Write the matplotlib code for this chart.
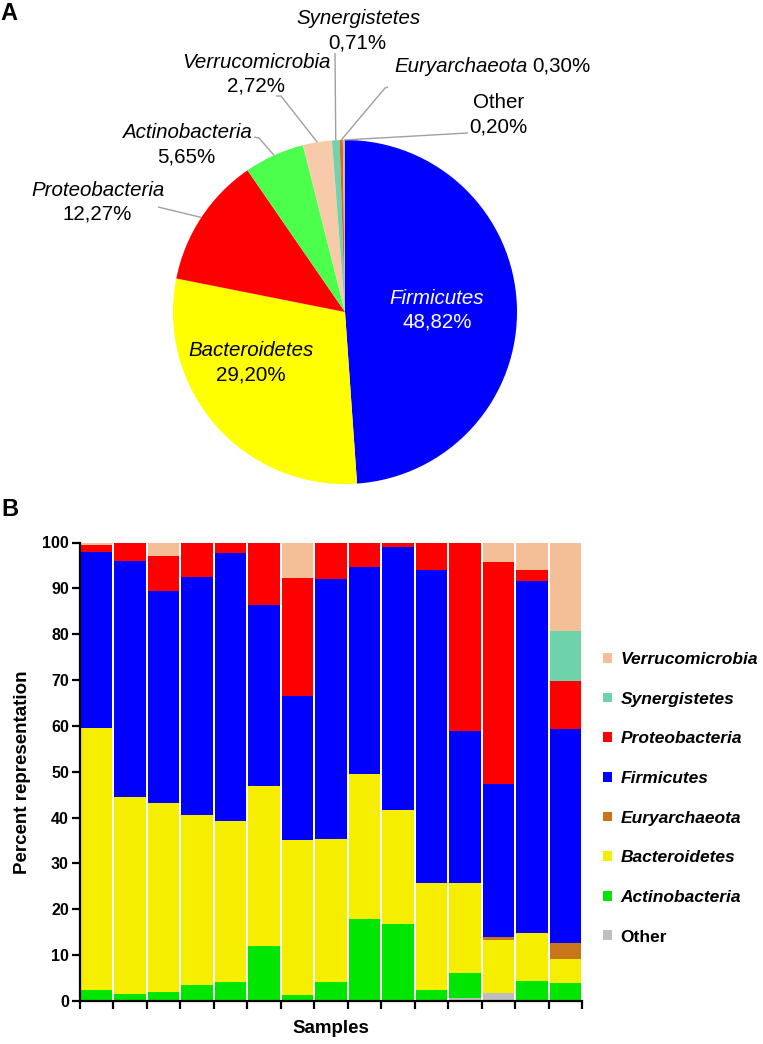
import numpy as np
import matplotlib.pyplot as plt
from matplotlib.patches import Patch

plt.rcParams['font.family'] = ['Liberation Sans', 'DejaVu Sans']

# ====================================================
# A. pie data (overall phylum composition)
# ====================================================
pie_names = ["Firmicutes", "Bacteroidetes", "Proteobacteria", "Actinobacteria",
             "Verrucomicrobia", "Synergistetes", "Euryarchaeota", "Other"]
pie_pct = [48.82, 29.20, 12.27, 5.65, 2.72, 0.71, 0.30, 0.20]
pie_pct_txt = ["48,82%", "29,20%", "12,27%", "5,65%", "2,72%", "0,71%", "0,30%", "0,20%"]
pie_colors = ["#0000FF", "#FFFF00", "#FF0000", "#4DFF4D",
              "#F7CBAA", "#70D3AE", "#E0661A", "#BFBFBF"]

# ====================================================
# B. stacked bars per sample (percent)
# ====================================================
samples = np.arange(15)
other   = [0, 0, 0, 0, 0, 0, 0, 0, 0, 0, 0, 0.7, 1.7, 0, 0]
actino  = [2.5, 1.6, 2.0, 3.4, 4.2, 12.1, 1.2, 4.2, 17.8, 16.7, 2.5, 5.4, 0, 4.4, 4.0]
bactero = [57.0, 42.9, 41.1, 37.1, 35.1, 34.9, 33.9, 31.1, 31.7, 25.0, 23.2, 19.7, 11.5, 10.4, 5.1]
eury    = [0, 0, 0, 0, 0, 0, 0, 0, 0, 0, 0, 0, 0.8, 0, 3.6]
firm    = [38.5, 51.5, 46.4, 51.9, 58.5, 39.3, 31.5, 56.7, 45.2, 57.4, 68.3, 33.0, 33.3, 76.8, 46.6]
proteo  = [1.4, 4.0, 7.5, 7.6, 2.2, 13.7, 25.6, 8.0, 5.3, 0.9, 6.0, 41.2, 48.4, 2.4, 10.5]
syner   = [0, 0, 0, 0, 0, 0, 0, 0, 0, 0, 0, 0, 0, 0, 10.8]
verruco = [0.6, 0, 3.0, 0, 0, 0, 7.8, 0, 0, 0, 0, 0, 4.3, 6.0, 19.4]

# bottom -> top
bar_series = [
    ("Other", other, "#BEBEBE"),
    ("Actinobacteria", actino, "#00E600"),
    ("Bacteroidetes", bactero, "#F5EE00"),
    ("Euryarchaeota", eury, "#C87619"),
    ("Firmicutes", firm, "#0000FF"),
    ("Proteobacteria", proteo, "#FF0000"),
    ("Synergistetes", syner, "#6ED2AA"),
    ("Verrucomicrobia", verruco, "#F4BE96"),
]

W, H = 763, 1044
fig = plt.figure(figsize=(W / 100, H / 100), dpi=100)

# ----------------------------------------------------
# panel A
# ----------------------------------------------------
CX, CY, R = 345, 312, 172   # pie centre / radius in pixels
TOP_H = 520


def px(x, y):
    return (x - CX) / R, (CY - y) / R


axA = fig.add_axes([0, 1 - TOP_H / H, 1, TOP_H / H])
wedges, _ = axA.pie(pie_pct, colors=pie_colors, startangle=90, counterclock=False,
                    wedgeprops=dict(linewidth=0))
axA.set_xlim((0 - CX) / R, (W - CX) / R)
axA.set_ylim((CY - TOP_H) / R, CY / R)
axA.set_aspect("auto")
axA.axis("off")

FS = 14.8
# name position, pct position (pixel centres)
label_pos = {
    "Firmicutes":      ((437, 298), (437, 322)),
    "Bacteroidetes":   ((251, 350), (251, 375)),
    "Proteobacteria":  ((98, 191), (97, 214)),
    "Actinobacteria":  ((187, 133), (186, 157)),
    "Verrucomicrobia": ((256, 62), (256, 86)),
    "Synergistetes":   ((358, 18), (357, 43)),
    "Other":           ((499, 103), (498, 127)),
}
# leader line elbows (pixels), ending at the wedge arc
leaders = {
    "Proteobacteria":  [(158, 207)],
    "Actinobacteria":  [(254, 137), (259, 138)],
    "Verrucomicrobia": [(276, 96), (281, 96)],
    "Synergistetes":   [(335, 53)],
    "Euryarchaeota":   [(388, 87), (385, 88)],
    "Other":           [(468, 133)],
}

for w, name, pct in zip(wedges, pie_names, pie_pct_txt):
    col = "white" if name == "Firmicutes" else "black"
    if name == "Euryarchaeota":
        axA.text(*px(528, 66), name, style="italic", fontsize=FS, ha="right", va="center")
        axA.text(*px(532, 66), pct, fontsize=FS, ha="left", va="center")
    elif name == "Other":
        (nx, ny), (qx, qy) = label_pos[name]
        axA.text(*px(nx, ny), name, fontsize=FS, ha="center", va="center")
        axA.text(*px(qx, qy), pct, fontsize=FS, ha="center", va="center")
    else:
        (nx, ny), (qx, qy) = label_pos[name]
        axA.text(*px(nx, ny), name, style="italic", fontsize=FS, ha="center",
                 va="center", color=col)
        axA.text(*px(qx, qy), pct, fontsize=FS, ha="center", va="center", color=col)
    if name in leaders:
        ang = np.deg2rad((w.theta1 + w.theta2) / 2)
        pts = [px(*p) for p in leaders[name]] + [(np.cos(ang), np.sin(ang))]
        xs, ys = zip(*pts)
        axA.plot(xs, ys, color="#A0A0A0", lw=1.0, solid_capstyle="butt")

fig.text(9 / W, 1 - 13 / H, "A", fontsize=17, fontweight="bold", ha="center", va="center")
fig.text(10 / W, 1 - 510 / H, "B", fontsize=17, fontweight="bold", ha="center", va="center")

# ----------------------------------------------------
# panel B
# ----------------------------------------------------
x0, x1 = 80, 582
y_top, y_bot = 542.5, 1001
axB = fig.add_axes([x0 / W, 1 - y_bot / H, (x1 - x0) / W, (y_bot - y_top) / H])

bottom = np.zeros(len(samples))
for name, vals, color in bar_series:
    vals = np.array(vals)
    axB.bar(samples, vals, bottom=bottom, width=0.94, color=color, linewidth=0)
    bottom += vals

axB.set_xlim(-0.5, 14.5)
axB.set_ylim(0, 100)
axB.set_yticks(np.arange(0, 101, 10))
axB.set_xticks(np.arange(-0.5, 15, 1))
axB.set_xticklabels([])
for s in ["top", "right"]:
    axB.spines[s].set_visible(False)
for s in ["left", "bottom"]:
    axB.spines[s].set_linewidth(1.6)
axB.tick_params(axis="both", direction="out", length=6, width=1.6)
axB.tick_params(axis="y", labelsize=11.5, pad=2)
for t in axB.get_yticklabels():
    t.set_fontweight("bold")
axB.set_ylabel("Percent representation", fontsize=13.5, fontweight="bold", labelpad=8)
axB.set_xlabel("Samples", fontsize=13.5, fontweight="bold")
axB.xaxis.set_label_coords(0.5, -0.042)

handles = [Patch(facecolor=c, edgecolor="none", label=n) for n, _, c in bar_series[::-1]]
leg = fig.legend(handles=handles, loc="upper left", bbox_to_anchor=(603 / W, 1 - 652 / H),
                 frameon=False, fontsize=12.5, handlelength=0.5, handleheight=0.5,
                 handletextpad=0.5, labelspacing=1.42, borderaxespad=0,
                 borderpad=0)
for t in leg.get_texts():
    t.set_fontweight("bold")
    if t.get_text() != "Other":
        t.set_style("italic")

fig.savefig("out.png", dpi=100)
